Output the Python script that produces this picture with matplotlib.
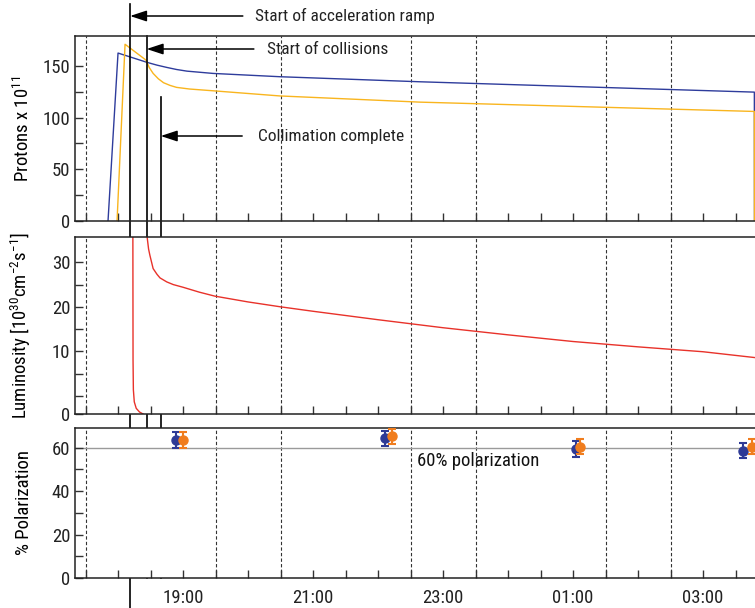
import numpy as np
import matplotlib
matplotlib.use("Agg")
import matplotlib.pyplot as plt
import matplotlib.font_manager as fm
from matplotlib import transforms
from matplotlib.ticker import FixedLocator, FuncFormatter

# pick a narrow face if one is installed
names = {f.name for f in fm.fontManager.ttflist}
narrow = None
stretch = 'normal'
for p in ['Liberation Sans Narrow', 'Noto Sans Condensed', 'Roboto Condensed',
          'Open Sans Condensed', 'DejaVu Sans Condensed']:
    if p in names:
        narrow = p
        break
if narrow is None:
    for fam in ['Noto Sans', 'Open Sans', 'DejaVu Sans', 'Roboto', 'Inter']:
        for f in fm.fontManager.ttflist:
            st = f.stretch
            if f.name == fam and st in ('condensed', 'semi-condensed', 'extra-condensed', 'ultra-condensed'):
                narrow, stretch = fam, st
                break
        if narrow:
            break
if narrow is None:
    narrow = 'DejaVu Sans'

plt.rcParams['font.family'] = [narrow, 'DejaVu Sans']
plt.rcParams['font.stretch'] = stretch
plt.rcParams['mathtext.fontset'] = 'custom'
plt.rcParams['mathtext.rm'] = f'{narrow}:stretch={stretch}'
plt.rcParams['mathtext.it'] = f'{narrow}:stretch={stretch}'
plt.rcParams['text.color'] = '#222222'

# times in hours (25 = 01:00 next day)
blue_t = [17.846, 18.0, 18.446, 18.6, 18.75, 18.9, 19.06, 19.46, 20.49, 22.65, 27.79, 27.792]
blue_p = [0, 162.5, 153.5, 150.8, 148.6, 146.6, 145.0, 142.8, 139.6, 134.7, 124.7, 0]
orange_t = [17.985, 18.108, 18.43, 18.48, 18.54, 18.62, 18.70, 18.80, 18.90, 19.1, 19.46, 20.49, 22.65, 27.79, 27.792]
orange_p = [0, 171, 155.7, 148.5, 142.8, 137.6, 133.8, 131.2, 129.3, 127.7, 126, 121, 115, 106, 0]

lumi_dump_t = [18.228, 18.231, 18.236, 18.25, 18.28, 18.33, 18.385]
lumi_dump = [40, 8, 3, 1.5, 0.7, 0.25, 0]
lumi_t = [18.440, 18.445, 18.47, 18.49, 18.54, 18.6, 18.646, 18.75, 18.85, 19.0, 19.25, 19.49,
          20.0, 20.5, 21.0, 22.0, 23.0, 24.0, 25.0, 26.0, 27.0, 27.79]
lumi = [60, 36, 33.0, 31.6, 28.6, 27.3, 26.5, 25.6, 25.0, 24.4, 23.3, 22.4,
        21.1, 20.0, 19.0, 17.1, 15.3, 13.7, 12.2, 11.0, 9.9, 8.6]

pol_blue_t = [18.89, 22.11, 25.05, 27.62]
pol_blue = [63.5, 64.2, 59.3, 58.5]
pol_orange_t = [19.0, 22.21, 25.11, 27.75]
pol_orange = [63.5, 65.2, 60.4, 60.3]
pol_err = [3.5, 3.5, 3.5, 3.5]

t_ramp = 18.185
t_coll = 18.44
t_colli = 18.657
dashed_t = [17.5, 19.5, 20.5, 22.5, 23.5, 25.5, 26.5]
label_hours = [19, 21, 23, 25, 27]

BLUE = '#2E3C9C'
GOLD = '#F9B51E'
RED = '#E8322A'
PBLUE = '#2E3A96'
PORANGE = '#F07D1E'
INK = '#222222'

fig = plt.figure(figsize=(7.55, 6.08), dpi=100)
left = 75 / 755
ax1 = fig.add_axes([left, 1 - 221 / 608, 1 - left, (221 - 36) / 608])
ax2 = fig.add_axes([left, 1 - 414 / 608, 1 - left, (414 - 237) / 608], sharex=ax1)
ax3 = fig.add_axes([left, 1 - 578 / 608, 1 - left, (578 - 427.5) / 608], sharex=ax1)

# top: protons
ax1.plot(blue_t, blue_p, color=BLUE, lw=1.0)
ax1.plot(orange_t, orange_p, color=GOLD, lw=1.0)
ax1.set_ylim(0, 179)
ax1.yaxis.set_major_locator(FixedLocator([0, 50, 100, 150]))
ax1.yaxis.set_minor_locator(FixedLocator([25, 75, 125]))
ax1.set_ylabel('Protons x 10$^{11}$', fontsize=13.5)

# middle: luminosity, stretched below 5
def fwd(v):
    v = np.asarray(v, dtype=float)
    return np.where(v >= 5, v, 5 - (5 - v) * 1.82)

def inv(v):
    v = np.asarray(v, dtype=float)
    return np.where(v >= 5, v, 5 - (5 - v) / 1.82)

ax2.set_yscale('function', functions=(fwd, inv))
ax2.plot(lumi_dump_t, lumi_dump, color=RED, lw=1.0)
ax2.plot(lumi_t, lumi, color=RED, lw=1.0)
ax2.set_ylim(0, 35.7)
ax2.yaxis.set_major_locator(FixedLocator([0, 10, 20, 30]))
ax2.yaxis.set_minor_locator(FixedLocator([2.25, 5, 15, 25]))
ax2.yaxis.set_major_formatter(FuncFormatter(lambda v, p: f'{v:.0f}'))
ax2.yaxis.set_minor_formatter(FuncFormatter(lambda v, p: ''))
ax2.set_ylabel('Luminosity [10$^{30}$cm$^{-2}$s$^{-1}$]', fontsize=13.5)

# bottom: polarization
ax3.axhline(60, color='#9a9a9a', lw=1.0, zorder=1)
ax3.errorbar(pol_blue_t, pol_blue, yerr=pol_err, fmt='o', color=PBLUE, ms=6.5,
             capsize=3, elinewidth=1.5, capthick=1.5, zorder=3)
ax3.errorbar(pol_orange_t, pol_orange, yerr=pol_err, fmt='o', color=PORANGE, ms=6.5,
             capsize=3, elinewidth=1.5, capthick=1.5, zorder=4)
ax3.set_ylim(0, 69.2)
ax3.yaxis.set_major_locator(FixedLocator([0, 20, 40, 60]))
ax3.yaxis.set_minor_locator(FixedLocator([10, 30, 50]))
ax3.set_ylabel('% Polarization', fontsize=13.5)
ax3.text(22.6, 53.8, '60% polarization', fontsize=13.5, color='#111111', va='center')

ax1.set_xlim(17.338, 27.8)
for ax in (ax1, ax2, ax3):
    for t in dashed_t:
        ax.axvline(t, color='#333333', lw=0.8, ls=(0, (3, 2)), zorder=0)
    ax.spines['right'].set_visible(False)
    for s in ('left', 'top', 'bottom'):
        ax.spines[s].set_color('#222222')
        ax.spines[s].set_linewidth(1.1)
    ax.xaxis.set_major_locator(FixedLocator(label_hours))
    ax.xaxis.set_minor_locator(FixedLocator(np.arange(17.5, 27.6, 0.5)))
    ax.tick_params(which='both', direction='in', length=6, width=1.0, color='#333333',
                   labelsize=13.5, labelcolor=INK)
    ax.tick_params(axis='x', which='both', top=False)
    ax.tick_params(axis='y', which='both', right=False)
    ax.yaxis.set_label_coords(-0.062, 0.5)

ax3.xaxis.set_major_formatter(FuncFormatter(lambda v, p: f'{int(round(v)) % 24:02d}:00'))
ax1.tick_params(axis='x', labelbottom=False)
ax2.tick_params(axis='x', labelbottom=False)
ax3.tick_params(axis='x', pad=8)

# event markers spanning the panels
tr = transforms.blended_transform_factory(ax1.transData, fig.transFigure)
ax1.plot([t_ramp, t_ramp], [1 - 4 / 608, 0], transform=tr, color='black', lw=1.2, clip_on=False)
ax1.plot([t_coll, t_coll], [1 - 36 / 608, 1 - 578 / 608], transform=tr, color='black', lw=1.2, clip_on=False)
ax1.plot([t_colli, t_colli], [1 - 97 / 608, 1 - 578 / 608], transform=tr, color='black', lw=1.2, clip_on=False)

arrows = [
    (t_ramp, 19.92, 20.11, 1 - 16 / 608, 'Start of acceleration ramp'),
    (t_coll, 20.09, 20.29, 1 - 49 / 608, 'Start of collisions'),
    (t_colli, 19.91, 20.15, 1 - 136 / 608, 'Collimation complete'),
]
for head, tail, tx, yy, label in arrows:
    ax1.annotate('', xy=(head, yy), xycoords=tr, xytext=(tail, yy), textcoords=tr,
                 arrowprops=dict(arrowstyle='-|>,head_length=1.0,head_width=0.33',
                                 mutation_scale=10, color='black', lw=1.1,
                                 shrinkA=0, shrinkB=0), annotation_clip=False)
    ax1.text(tx, yy, label, transform=tr, fontsize=12.5, va='center', ha='left', color=INK)

fig.savefig('out.png', dpi=100)
